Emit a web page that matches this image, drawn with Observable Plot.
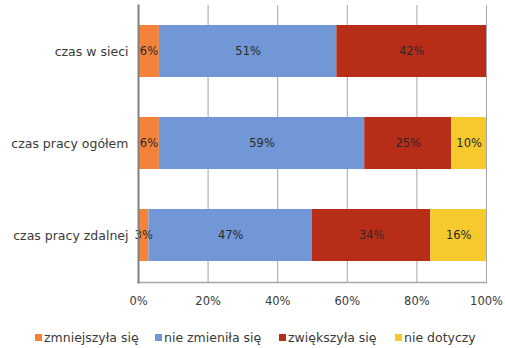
<!DOCTYPE html>
<html><head><meta charset="utf-8">
<script src="https://cdn.jsdelivr.net/npm/d3@7"></script>
<script src="https://cdn.jsdelivr.net/npm/@observablehq/plot@0.6"></script>
<style>
body{margin:0;background:#fff;font-family:"DejaVu Sans",sans-serif;}
#legend{position:absolute;top:330px;left:0;width:505px;font-size:12.5px;color:#3a3a3a;}
#legend span.item{position:absolute;display:flex;align-items:center;white-space:nowrap;}
#legend i{display:inline-block;width:7px;height:7px;margin-right:2px;}
</style></head>
<body>
<div id="chart"></div>
<div id="legend"></div>
<script>
const categories = ["czas w sieci", "czas pracy ogółem", "czas pracy zdalnej"];
const series = ["zmniejszyła się", "nie zmieniła się", "zwiększyła się", "nie dotyczy"];
const colors = ["#F5823A", "#7197D6", "#B72D18", "#F6C92C"];
const zmniejszyla = [6, 6, 3];
const nieZmienila = [51, 59, 47];
const zwiekszyla = [42, 25, 34];
const nieDotyczy = [0, 10, 16];
const labels = [["6%","51%","42%",""],["6%","59%","25%","10%"],["3%","47%","34%","16%"]];
const xTicks = [0, 0.2, 0.4, 0.6, 0.8, 1];

const cols = [zmniejszyla, nieZmienila, zwiekszyla, nieDotyczy];
const data = [];
categories.forEach((c, i) => {
  let start = 0;
  series.forEach((s, j) => {
    const v = cols[j][i] / 100;
    if (v > 0) data.push({cat: c, series: s, x1: start, x2: start + v, label: labels[i][j]});
    start += v;
  });
});
// last segment reaches 100% (rounding in the source)
categories.forEach(c => {
  const rows = data.filter(d => d.cat === c);
  const last = rows[rows.length - 1];
  if (last.x2 < 1) last.x2 = 1;
});

const font = "DejaVu Sans";
const pct = d => Math.round(d * 100) + "%";
const chart = Plot.plot({
  width: 505,
  height: 322,
  marginLeft: 138,
  marginRight: 19,
  marginTop: 5,
  marginBottom: 40,
  style: {fontFamily: font, fontSize: "11.5px", color: "#3a3a3a", background: "#fff"},
  x: {domain: [0, 1], label: null},
  y: {domain: categories, paddingInner: 0.43, paddingOuter: 0.215, label: null},
  color: {domain: series, range: colors},
  marks: [
    Plot.ruleX(xTicks.slice(1), {stroke: "#a6a6a6", strokeWidth: 1}),
    Plot.barX(data, {y: "cat", x1: "x1", x2: "x2", fill: "series"}),
    Plot.text(data, {y: "cat", x: d => (d.x1 + d.x2) / 2, text: "label", fill: "#2a2a2a", fontSize: 11.5}),
    Plot.axisX({ticks: xTicks, tickFormat: pct, tickSize: 0, tickPadding: 14, fontSize: 11.5, label: null}),
    Plot.axisY({tickSize: 0, tickPadding: 10, fontSize: 12.5, label: null}),
    Plot.frame({anchor: "bottom", stroke: "#a6a6a6", strokeWidth: 1.5}),
    Plot.frame({anchor: "left", stroke: "#808080", strokeWidth: 2})
  ]
});
document.getElementById("chart").appendChild(chart);

const lx = [35, 155, 279, 395];
const leg = document.getElementById("legend");
series.forEach((s, i) => {
  const el = document.createElement("span");
  el.className = "item";
  el.style.left = lx[i] + "px";
  el.innerHTML = `<i style="background:${colors[i]}"></i>${s}`;
  leg.appendChild(el);
});
</script>
</body></html>
